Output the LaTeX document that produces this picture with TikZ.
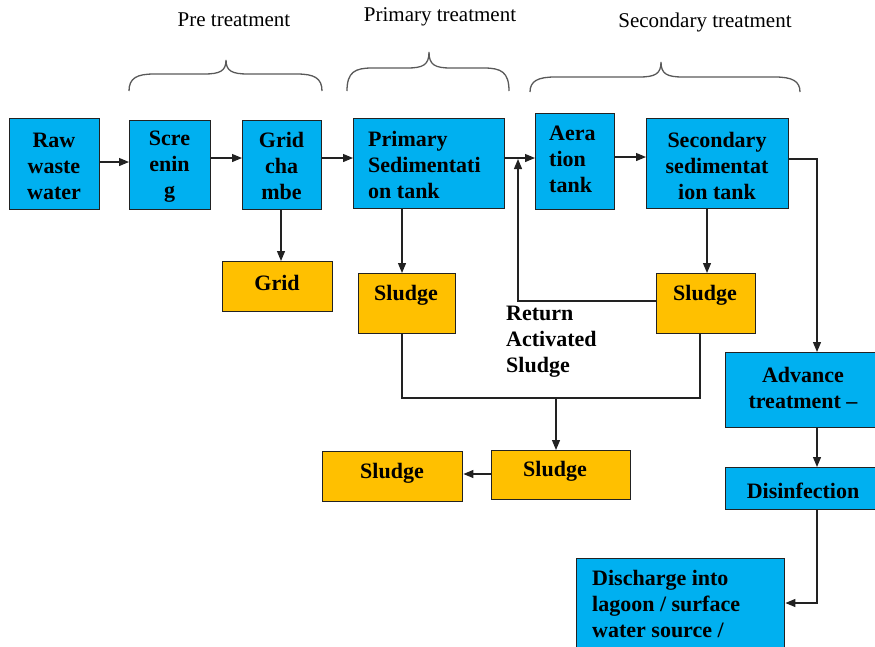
\documentclass[tikz,border=0pt]{standalone}
\usepackage{fontspec}
\setmainfont{Liberation Serif}
\usetikzlibrary{arrows.meta}
\definecolor{cblue}{HTML}{00B0F0}
\definecolor{corange}{HTML}{FFC000}
\definecolor{cline}{HTML}{222222}
\newcommand{\wbrace}[6]{%
  \draw[bracestyle] (#1,#6) .. controls (#1,#5+4) and (#1+8,#5) .. (#1+25,#5)
    -- (#2-22,#5) .. controls (#2-6,#5) and (#2,#5-3) .. (#2,#4)
    .. controls (#2,#5-3) and (#2+6,#5) .. (#2+22,#5)
    -- (#3-25,#5) .. controls (#3-8,#5) and (#3,#5+4) .. (#3,#6);}
\begin{document}
\begin{tikzpicture}[x=1pt,y=-1pt,
  box/.style={draw=cline, line width=1.4pt, inner sep=0pt, anchor=north west},
  bluebox/.style={box, fill=cblue},
  orangebox/.style={box, fill=corange},
  txt/.style={font=\fontsize{22}{26}\selectfont\bfseries, align=center, inner sep=0pt, text=black},
  ltxt/.style={txt, align=left, anchor=west},
  head/.style={font=\fontsize{21}{24}\selectfont, inner sep=0pt},
  arr/.style={-{Triangle[length=10pt,width=8pt]}, line width=1.2pt, draw=cline},
  ln/.style={line width=1.2pt, draw=cline},
  bracestyle/.style={line width=1.3pt, draw=black!65}
]
\useasboundingbox (0,0) rectangle (875,646);

% headers
\node[head] (h1) at (234,20) {Pre treatment};
\node[head] (h2) at (440,17) {Primary treatment};
\node[head] (h3) at (705,22) {Secondary treatment};

% braces
\wbrace{129}{226}{322}{60}{74}{91}
\wbrace{347}{429}{509}{52}{68}{91}
\wbrace{530}{661}{800}{62}{77}{92}

% blue boxes
\node[bluebox, minimum width=90pt, minimum height=91pt] (raw) at (9,118) {};
\node[bluebox, minimum width=81pt, minimum height=89pt] (scr) at (129,120) {};
\node[bluebox, minimum width=79pt, minimum height=89pt] (grid) at (242,120) {};
\node[bluebox, minimum width=151pt, minimum height=90pt] (prim) at (353,118) {};
\node[bluebox, minimum width=79pt, minimum height=96pt] (aer) at (535,113) {};
\node[bluebox, minimum width=142pt, minimum height=90pt] (sec) at (646,118) {};
\node[bluebox, minimum width=160pt, minimum height=75pt] (adv) at (725,352) {};
\node[bluebox, minimum width=160pt, minimum height=42pt] (dis) at (725,467) {};
\node[bluebox, minimum width=208pt, minimum height=95pt] (dch) at (576,558) {};

% orange boxes
\node[orangebox, minimum width=110pt, minimum height=50pt] (gridd) at (222,261) {};
\node[orangebox, minimum width=97pt, minimum height=60pt] (sl1) at (358,273) {};
\node[orangebox, minimum width=99pt, minimum height=60pt] (sl2) at (656,273) {};
\node[orangebox, minimum width=140pt, minimum height=50pt] (dry) at (322,451) {};
\node[orangebox, minimum width=139pt, minimum height=49pt] (thick) at (491,450) {};

% texts
\node[txt] (rawt) at (54,166) {Raw\\waste\\water};
\node[txt] (scrt) at (169.5,167) {Scre\\enin\\g};
\node[txt] (gridt) at (281.5,166) {Grid\\cha\\mbe};
\node[ltxt] (primt) at (368,165) {Primary\\Sedimentati\\on tank};
\node[ltxt] (aert) at (549,159) {Aera\\tion\\tank};
\node[txt] (sect) at (717,166) {Secondary\\sedimentat\\ion tank};
\node[txt] (advt) at (803,388) {Advance\\treatment –};
\node[txt] (dist) at (803,491) {Disinfection};
\node[ltxt] (dcht) at (592,604) {Discharge into\\lagoon / surface\\water source /};
\node[txt] (griddt) at (277,283) {Grid};
\node[txt] (sl1t) at (406,295) {Sludge};
\node[txt] (sl2t) at (705,295) {Sludge};
\node[txt] (dryt) at (392,473) {Sludge};
\node[txt] (thickt) at (555,471) {Sludge};
\node[ltxt] (rett) at (506,342) {Return\\Activated\\Sludge};

% connectors
\coordinate (ret) at (518,159);
\coordinate (j) at (556,398);
\draw[arr] (raw.east |- 0,162) -- (scr.west |- 0,162);
\draw[arr] (scr.east |- 0,158) -- (grid.west |- 0,158);
\draw[arr] (grid.east |- 0,158) -- (prim.west |- 0,158);
\draw[arr] (prim.east |- 0,158) -- (aer.west |- 0,158);
\draw[arr] (aer.east |- 0,157) -- (sec.west |- 0,157);
\draw[arr] (grid.south -| 281,0) -- (gridd.north -| 281,0);
\draw[arr] (prim.south -| 402,0) -- (sl1.north -| 402,0);
\draw[arr] (sec.south -| 707,0) -- (sl2.north -| 707,0);
\draw[arr] (sec.east |- 0,159) -| (adv.north -| 817,0);
\draw[arr] (sl2.west |- 0,301) -| (ret);
\draw[ln] (sl1.south -| 402,0) |- (j) -| (sl2.south -| 700,0);
\draw[arr] (j) -- (thick.north -| 556,0);
\draw[arr] (thick.west |- 0,474) -- (dry.east |- 0,474);
\draw[arr] (adv.south -| 817,0) -- (dis.north -| 817,0);
\draw[arr] (dis.south -| 817,0) |- (dch.east |- 0,603);
\end{tikzpicture}
\end{document}
